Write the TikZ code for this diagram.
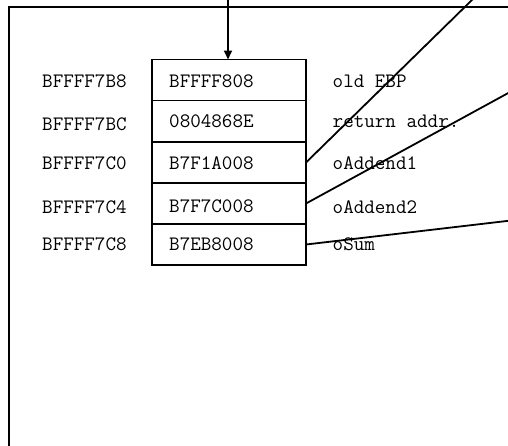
\documentclass[tikz,border=0pt]{standalone}
\usepackage{fontspec}
\usetikzlibrary{arrows.meta}
\begin{document}
\begin{tikzpicture}[x=1pt,y=-1pt,
  cell/.style={draw,line width=1.8pt,minimum width=154pt,minimum height=41pt,inner sep=0pt,outer sep=0pt},
  txt/.style={anchor=base west,inner sep=0pt,font=\ttfamily\fontsize{20.5}{22}\selectfont},
  conn/.style={line width=1.8pt},
  frame/.style={line width=2pt}]
\useasboundingbox (0,0) rectangle (508,445);
\draw[frame] (510,6.5) -- (9,6.5) -- (9,447);
% cells
\node[cell] (c1) at (229,80) {};
\node[cell] (c2) at (229,121) {};
\node[cell] (c3) at (229,162.5) {};
\node[cell] (c4) at (229,203.5) {};
\node[cell] (c5) at (229,244.5) {};
% addresses
\node[txt] (a1) at (42,87.5) {BFFFF7B8};
\node[txt] (a2) at (42,130) {BFFFF7BC};
\node[txt] (a3) at (42,169) {BFFFF7C0};
\node[txt] (a4) at (42,213) {BFFFF7C4};
\node[txt] (a5) at (42,250.5) {BFFFF7C8};
% values
\node[txt] (v1) at (169,87.5) {BFFFF808};
\node[txt] (v2) at (169,127) {0804868E};
\node[txt] (v3) at (169,169) {B7F1A008};
\node[txt] (v4) at (169,212.5) {B7F7C008};
\node[txt] (v5) at (169,250.5) {B7EB8008};
% labels
\node[txt] (l1) at (332.5,87) {old EBP};
\node[txt] (l2) at (332.5,127) {return addr.};
\node[txt] (l3) at (332.5,169.5) {oAddend1};
\node[txt] (l4) at (332.5,213) {oAddend2};
\node[txt] (l5) at (332.5,250.5) {oSum};
% connectors
\coordinate (top) at (228,-2);
\coordinate (e1) at (474,-2);
\coordinate (e2) at (511,91.5);
\coordinate (e3) at (511,220.5);
\draw[conn,-{Triangle[length=9pt,width=8pt]}] (top) -- (c1.north -| top);
\draw[conn] (c3.east) -- (e1);
\draw[conn] (c4.east) -- (e2);
\draw[conn] (c5.east) -- (e3);
\end{tikzpicture}
\end{document}
